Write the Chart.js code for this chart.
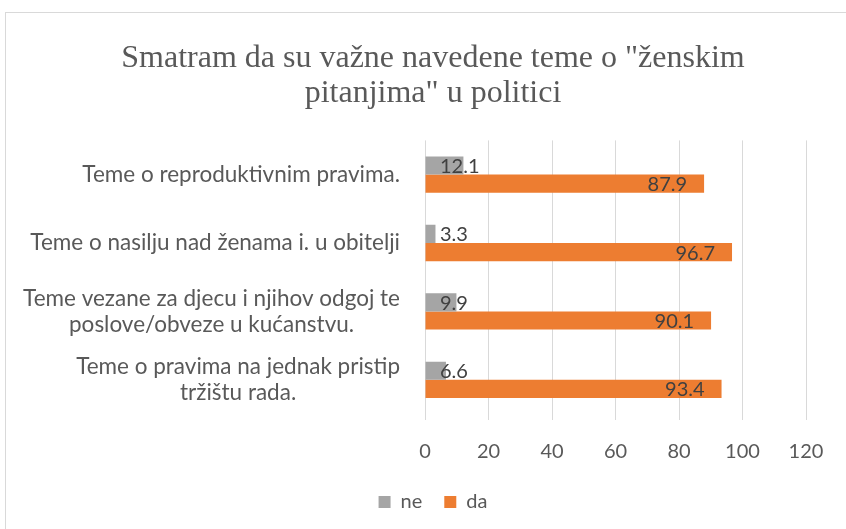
<!DOCTYPE html>
<html>
<head>
<meta charset="utf-8">
<script src="https://cdn.jsdelivr.net/npm/chart.js@4.4.1/dist/chart.umd.min.js"></script>
<style>
  html, body { margin: 0; padding: 0; background: #fff; overflow: hidden; }
  #box { position: absolute; left: 5px; top: 12px; width: 856px; height: 530px;
         border: 1px solid #d9d9d9; box-sizing: border-box; }
</style>
</head>
<body>
<div id="box"><canvas id="myChart"></canvas></div>
<script>
// chart data
const categories = [
  'Teme o reproduktivnim pravima.',
  'Teme o nasilju nad ženama i. u obitelji',
  ['Teme vezane za djecu i njihov odgoj te', 'poslove/obveze u kućanstvu.'],
  ['Teme o pravima na jednak pristip', 'tržištu rada.']
];
const neValues = [12.1, 3.3, 9.9, 6.6];
const daValues = [87.9, 96.7, 90.1, 93.4];
const xTicks = [0, 20, 40, 60, 80, 100, 120];
const titleLines = ['Smatram da su važne navedene teme o "ženskim', 'pitanjima" u politici'];

const sansFont = 'Lato, "Open Sans", sans-serif';
const textColor = '#595959';

// category labels: block right-aligned, lines centered inside the block
const categoryLabels = {
  id: 'categoryLabels',
  afterDraw(chart) {
    const ctx = chart.ctx;
    const yScale = chart.scales.y;
    const right = chart.chartArea.left - 25;
    const lineH = 26;
    ctx.save();
    ctx.font = '22.5px ' + sansFont;
    ctx.fillStyle = textColor;
    ctx.textAlign = 'center';
    ctx.textBaseline = 'middle';
    categories.forEach((lab, i) => {
      const lines = Array.isArray(lab) ? lab : [lab];
      const w = Math.max(...lines.map(l => ctx.measureText(l).width));
      const cx = right - w / 2;
      const y0 = yScale.getPixelForTick(i) - (lines.length - 1) * lineH / 2;
      lines.forEach((l, k) => ctx.fillText(l, cx, y0 + k * lineH));
    });
    ctx.restore();
  }
};

// value labels, excel "inside end" style, pushed right for small bars
const valueLabels = {
  id: 'valueLabels',
  afterDatasetsDraw(chart) {
    const ctx = chart.ctx;
    const left = chart.chartArea.left;
    ctx.save();
    ctx.font = '20px ' + sansFont;
    ctx.fillStyle = '#404040';
    ctx.textAlign = 'left';
    ctx.textBaseline = 'middle';
    chart.data.datasets.forEach((ds, di) => {
      const meta = chart.getDatasetMeta(di);
      meta.data.forEach((bar, i) => {
        const txt = ds.data[i].toFixed(1);
        const w = ctx.measureText(txt).width;
        const x = Math.max(bar.x - 17 - w, left + 15);
        ctx.fillText(txt, x, bar.y + 1);
      });
    });
    ctx.restore();
  }
};

new Chart(document.getElementById('myChart'), {
  type: 'bar',
  data: {
    labels: categories,
    datasets: [
      { label: 'ne', data: neValues, backgroundColor: '#A5A5A5' },
      { label: 'da', data: daValues, backgroundColor: '#ED7D31' }
    ]
  },
  options: {
    indexAxis: 'y',
    responsive: true,
    maintainAspectRatio: false,
    animation: false,
    datasets: { bar: { barPercentage: 1, categoryPercentage: 0.53 } },
    layout: { padding: { left: 0, right: 0, top: 0, bottom: 19 } },
    scales: {
      x: {
        min: 0,
        max: 120,
        afterBuildTicks: s => { s.ticks = xTicks.map(v => ({ value: v })); },
        grid: { color: '#d9d9d9', lineWidth: 1, drawTicks: true, tickLength: 6 },
        border: { display: false },
        ticks: { color: textColor, font: { family: sansFont, size: 20 }, padding: 20 },
        afterFit: s => { s.height = 56; }
      },
      y: {
        grid: { display: false },
        border: { display: false },
        ticks: { display: false },
        afterFit: s => { s.width = 419; }
      },
      // empty right gutter so title and legend stay centred on the whole canvas
      gutter: {
        type: 'linear',
        position: 'right',
        grid: { display: false },
        border: { display: false },
        ticks: { display: false },
        afterFit: s => { s.width = 54; }
      }
    },
    plugins: {
      title: {
        display: true,
        text: titleLines,
        color: textColor,
        font: { family: '"Liberation Serif", "Times New Roman", serif', size: 32, weight: 'normal', lineHeight: 1.1 },
        padding: { top: 28, bottom: 29 }
      },
      legend: {
        position: 'bottom',
        labels: {
          boxWidth: 12,
          boxHeight: 12,
          padding: 22,
          color: textColor,
          font: { family: sansFont, size: 20 }
        }
      },
      tooltip: { enabled: false }
    }
  },
  plugins: [categoryLabels, valueLabels]
});
</script>
</body>
</html>
